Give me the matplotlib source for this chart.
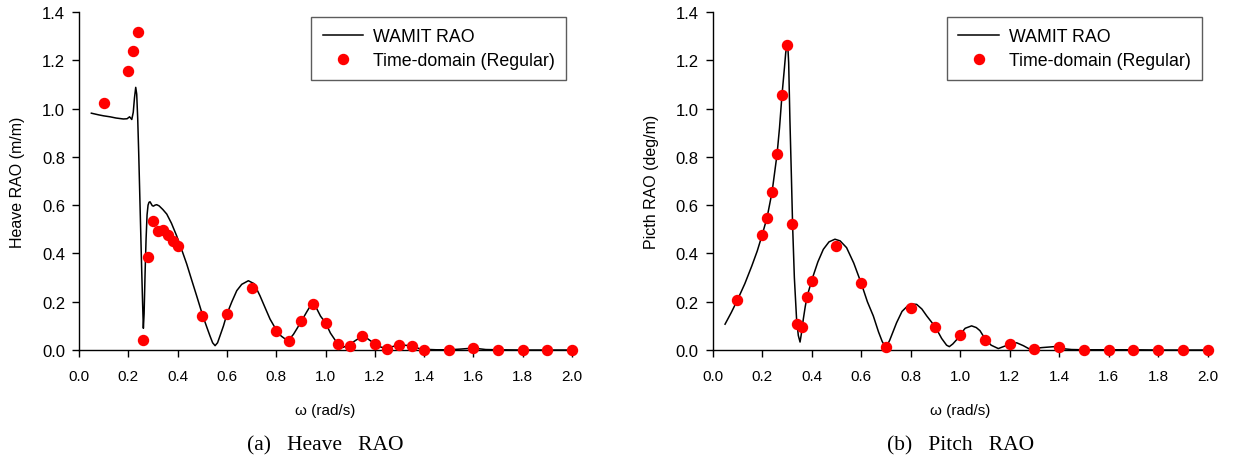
import matplotlib
matplotlib.use("Agg")
import matplotlib.pyplot as plt
from matplotlib.ticker import FormatStrFormatter, MultipleLocator

plt.rcParams['font.family'] = ['Liberation Sans', 'DejaVu Sans']

# ---- Heave: WAMIT curve ----
heave_w = [0.05, 0.08, 0.10, 0.126, 0.15, 0.18, 0.195, 0.205, 0.214, 0.220, 0.225, 0.230,
           0.234, 0.238, 0.242, 0.246, 0.250, 0.254, 0.258, 0.261, 0.264, 0.268, 0.272,
           0.276, 0.280, 0.284, 0.288, 0.292, 0.297, 0.302, 0.308, 0.315, 0.325, 0.34,
           0.356, 0.375, 0.396, 0.415, 0.437, 0.457, 0.477, 0.502, 0.52, 0.531, 0.542,
           0.552, 0.562, 0.572, 0.586, 0.60, 0.62, 0.64, 0.66, 0.687, 0.71, 0.734, 0.755,
           0.775, 0.802, 0.82, 0.836, 0.85, 0.87, 0.885, 0.903, 0.925, 0.94, 0.953, 0.965,
           0.98, 1.0, 1.02, 1.045, 1.072, 1.10, 1.13, 1.156, 1.18, 1.20, 1.225, 1.248,
           1.275, 1.30, 1.35, 1.38, 1.40, 1.45, 1.50, 1.55, 1.60, 1.65, 1.70, 1.80, 1.90, 2.0]
heave_rao = [0.981, 0.974, 0.970, 0.966, 0.961, 0.957, 0.958, 0.966, 0.955, 0.985, 1.045, 1.088,
             1.06, 0.96, 0.82, 0.66, 0.50, 0.34, 0.19, 0.09, 0.15, 0.32, 0.46,
             0.56, 0.60, 0.612, 0.614, 0.607, 0.598, 0.596, 0.600, 0.602, 0.597, 0.582,
             0.563, 0.525, 0.473, 0.42, 0.356, 0.29, 0.225, 0.142, 0.09, 0.059, 0.030,
             0.018, 0.030, 0.059, 0.10, 0.149, 0.20, 0.246, 0.272, 0.287, 0.275, 0.225, 0.175,
             0.128, 0.080, 0.058, 0.046, 0.040, 0.065, 0.090, 0.121, 0.16, 0.185, 0.193, 0.17,
             0.14, 0.113, 0.07, 0.032, 0.011, 0.025, 0.045, 0.058, 0.04, 0.026, 0.012, 0.007,
             0.015, 0.022, 0.017, 0.006, 0.003, 0.001, 0.001, 0.004, 0.008, 0.002, 0.001, 0.0, 0.0, 0.0]

# ---- Heave: time-domain (regular wave) points ----
heave_td_w = [0.1, 0.2, 0.22, 0.24, 0.26, 0.28, 0.30, 0.32, 0.34, 0.36, 0.38, 0.40, 0.5, 0.6,
              0.7, 0.8, 0.85, 0.9, 0.95, 1.0, 1.05, 1.1, 1.15, 1.2, 1.25, 1.3, 1.35, 1.4,
              1.5, 1.6, 1.7, 1.8, 1.9, 2.0]
heave_td = [1.023, 1.157, 1.237, 1.319, 0.041, 0.384, 0.536, 0.492, 0.498, 0.476, 0.450, 0.430,
            0.142, 0.148, 0.258, 0.080, 0.036, 0.120, 0.189, 0.113, 0.023, 0.018, 0.059, 0.026,
            0.006, 0.022, 0.018, 0.002, 0.0, 0.007, 0.0, 0.0, 0.0, 0.0]

# ---- Pitch: WAMIT curve ----
pitch_w = [0.05, 0.075, 0.10, 0.13, 0.158, 0.18, 0.20, 0.22, 0.24, 0.26, 0.27, 0.28, 0.29,
           0.295, 0.300, 0.303, 0.307, 0.312, 0.318, 0.323, 0.330, 0.339, 0.346, 0.353,
           0.358, 0.366, 0.374, 0.382, 0.395, 0.406, 0.425, 0.447, 0.47, 0.494, 0.515,
           0.541, 0.57, 0.60, 0.625, 0.649, 0.67, 0.685, 0.70, 0.715, 0.743, 0.765, 0.79,
           0.81, 0.824, 0.845, 0.865, 0.90, 0.925, 0.945, 0.956, 0.97, 0.985, 1.0, 1.02,
           1.046, 1.065, 1.08, 1.10, 1.125, 1.154, 1.19, 1.228, 1.255, 1.28, 1.33, 1.38,
           1.42, 1.45, 1.50, 1.60, 1.70, 1.80, 2.0]
pitch_rao = [0.107, 0.155, 0.207, 0.275, 0.348, 0.41, 0.477, 0.55, 0.655, 0.81, 0.92, 1.056, 1.17,
             1.23, 1.265, 1.27, 1.19, 0.956, 0.72, 0.514, 0.30, 0.127, 0.06, 0.033,
             0.065, 0.127, 0.18, 0.224, 0.27, 0.307, 0.365, 0.417, 0.448, 0.459, 0.452,
             0.424, 0.36, 0.277, 0.20, 0.141, 0.075, 0.035, 0.010, 0.04, 0.113, 0.16, 0.185,
             0.19, 0.189, 0.17, 0.141, 0.095, 0.048, 0.02, 0.014, 0.025, 0.042, 0.064, 0.09,
             0.10, 0.093, 0.08, 0.047, 0.02, 0.006, 0.02, 0.03, 0.018, 0.004, 0.01, 0.014,
             0.005, 0.002, 0.001, 0.001, 0.001, 0.0, 0.0]

# ---- Pitch: time-domain points ----
pitch_td_w = [0.1, 0.2, 0.22, 0.24, 0.26, 0.28, 0.30, 0.32, 0.34, 0.36, 0.38, 0.40, 0.5, 0.6,
              0.7, 0.8, 0.9, 1.0, 1.1, 1.2, 1.3, 1.4, 1.5, 1.6, 1.7, 1.8, 1.9, 2.0]
pitch_td = [0.207, 0.477, 0.545, 0.655, 0.810, 1.056, 1.265, 0.524, 0.107, 0.097, 0.221, 0.286,
            0.429, 0.277, 0.012, 0.172, 0.095, 0.064, 0.043, 0.024, 0.003, 0.011, 0.002, 0.001,
            0.001, 0.001, 0.0, 0.0]

ylabels = ["Heave RAO (m/m)", "Picth RAO (deg/m)"]
captions = ["(a)   Heave   RAO", "(b)   Pitch   RAO"]


def draw(ax, w, rao, td_w, td, ylabel, caption):
    ax.plot(w, rao, color='black', lw=1.1, label='WAMIT RAO', zorder=2)
    ax.plot(td_w, td, 'o', color='#ff0000', ms=7.2, mec='#ff0000', lw=0,
            label='Time-domain (Regular)', zorder=3, clip_on=False)
    ax.set_xlim(0, 2.0)
    ax.set_ylim(0, 1.4)
    ax.xaxis.set_major_locator(MultipleLocator(0.2))
    ax.yaxis.set_major_locator(MultipleLocator(0.2))
    ax.xaxis.set_major_formatter(FormatStrFormatter('%.1f'))
    ax.yaxis.set_major_formatter(FormatStrFormatter('%.1f'))
    for s in ['top', 'right']:
        ax.spines[s].set_visible(False)
    for s in ['left', 'bottom']:
        ax.spines[s].set_linewidth(1.0)
    ax.tick_params(axis='x', direction='out', length=5, width=1, pad=9, labelsize=11)
    ax.tick_params(axis='y', direction='out', length=5, width=1, pad=5, labelsize=12)
    ax.set_xlabel("ω (rad/s)", fontsize=11, labelpad=14)
    ax.set_ylabel(ylabel, fontsize=11.5, labelpad=12)
    leg = ax.legend(loc='upper right', bbox_to_anchor=(0.988, 0.985), borderaxespad=0,
                    fontsize=12.8, frameon=True, fancybox=False, edgecolor='#333333',
                    handlelength=2.3, handletextpad=0.55, labelspacing=0.4,
                    borderpad=0.62, numpoints=1)
    leg.get_frame().set_linewidth(1.0)
    ax.text(0.5, -0.28, caption, transform=ax.transAxes, ha='center', va='center',
            fontsize=15.5, family='Liberation Serif')


fig = plt.figure(figsize=(12.33, 4.64), dpi=100)
ax1 = fig.add_axes([0.0641, 0.2435, 0.3998, 0.7284])
ax2 = fig.add_axes([0.5780, 0.2435, 0.4015, 0.7284])

draw(ax1, heave_w, heave_rao, heave_td_w, heave_td, ylabels[0], captions[0])
draw(ax2, pitch_w, pitch_rao, pitch_td_w, pitch_td, ylabels[1], captions[1])

fig.savefig("out.png", dpi=100)
